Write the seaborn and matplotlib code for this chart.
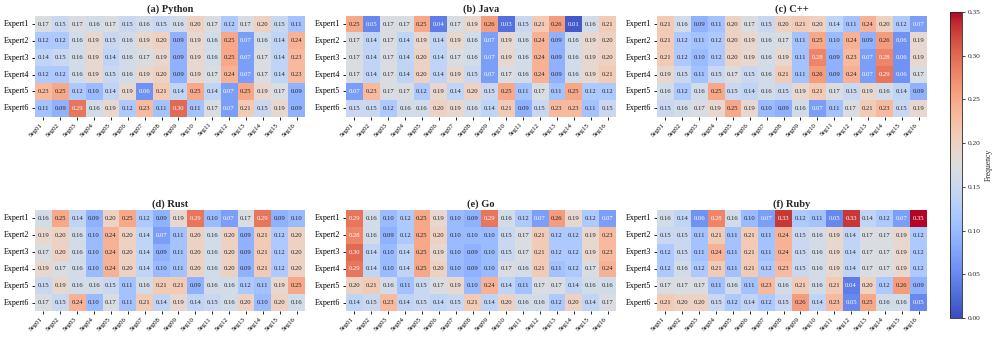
import numpy as np
import pandas as pd
import matplotlib
matplotlib.use("Agg")
import matplotlib.pyplot as plt
import seaborn as sns

experts = ["Expert1", "Expert2", "Expert3", "Expert4", "Expert5", "Expert6"]
segments = [f"Seg{i:02d}" for i in range(1, 17)]
titles = ["(a) Python", "(b) Java", "(c) C++", "(d) Rust", "(e) Go", "(f) Ruby"]

python_vals = [
    [0.17, 0.15, 0.17, 0.16, 0.17, 0.15, 0.16, 0.15, 0.16, 0.20, 0.17, 0.12, 0.17, 0.20, 0.15, 0.11],
    [0.12, 0.12, 0.16, 0.19, 0.15, 0.16, 0.19, 0.20, 0.09, 0.19, 0.16, 0.25, 0.07, 0.16, 0.14, 0.24],
    [0.14, 0.15, 0.16, 0.19, 0.14, 0.16, 0.17, 0.19, 0.09, 0.19, 0.16, 0.25, 0.07, 0.17, 0.14, 0.23],
    [0.12, 0.12, 0.16, 0.19, 0.15, 0.16, 0.19, 0.20, 0.09, 0.19, 0.17, 0.24, 0.07, 0.17, 0.14, 0.23],
    [0.23, 0.25, 0.12, 0.10, 0.14, 0.19, 0.06, 0.21, 0.14, 0.25, 0.14, 0.07, 0.25, 0.19, 0.17, 0.09],
    [0.11, 0.09, 0.29, 0.16, 0.19, 0.12, 0.23, 0.11, 0.30, 0.11, 0.17, 0.07, 0.21, 0.15, 0.19, 0.09],
]
java_vals = [
    [0.25, 0.05, 0.17, 0.17, 0.25, 0.04, 0.17, 0.19, 0.26, 0.03, 0.15, 0.21, 0.26, 0.01, 0.16, 0.21],
    [0.17, 0.14, 0.17, 0.14, 0.19, 0.14, 0.19, 0.16, 0.07, 0.19, 0.16, 0.24, 0.09, 0.16, 0.19, 0.20],
    [0.17, 0.14, 0.17, 0.14, 0.20, 0.14, 0.17, 0.16, 0.07, 0.19, 0.16, 0.24, 0.09, 0.16, 0.19, 0.20],
    [0.17, 0.14, 0.17, 0.14, 0.20, 0.14, 0.19, 0.15, 0.07, 0.17, 0.16, 0.24, 0.09, 0.16, 0.19, 0.21],
    [0.07, 0.23, 0.17, 0.17, 0.12, 0.19, 0.14, 0.20, 0.15, 0.25, 0.11, 0.17, 0.11, 0.25, 0.12, 0.12],
    [0.15, 0.15, 0.12, 0.16, 0.16, 0.20, 0.19, 0.16, 0.14, 0.21, 0.09, 0.15, 0.23, 0.23, 0.11, 0.15],
]
cpp_vals = [
    [0.21, 0.16, 0.09, 0.11, 0.20, 0.17, 0.15, 0.20, 0.21, 0.20, 0.14, 0.11, 0.24, 0.20, 0.12, 0.07],
    [0.21, 0.12, 0.11, 0.12, 0.20, 0.19, 0.16, 0.17, 0.11, 0.25, 0.10, 0.24, 0.09, 0.26, 0.06, 0.19],
    [0.21, 0.12, 0.10, 0.12, 0.20, 0.19, 0.16, 0.19, 0.11, 0.28, 0.09, 0.23, 0.07, 0.28, 0.06, 0.19],
    [0.19, 0.15, 0.11, 0.15, 0.17, 0.15, 0.16, 0.21, 0.11, 0.26, 0.09, 0.24, 0.07, 0.29, 0.06, 0.17],
    [0.16, 0.12, 0.16, 0.25, 0.15, 0.14, 0.16, 0.15, 0.19, 0.21, 0.17, 0.15, 0.19, 0.16, 0.14, 0.09],
    [0.15, 0.16, 0.17, 0.19, 0.25, 0.19, 0.10, 0.09, 0.16, 0.07, 0.11, 0.17, 0.21, 0.23, 0.15, 0.19],
]
rust_vals = [
    [0.16, 0.25, 0.14, 0.09, 0.20, 0.25, 0.12, 0.09, 0.19, 0.29, 0.10, 0.07, 0.17, 0.29, 0.09, 0.10],
    [0.19, 0.20, 0.16, 0.10, 0.24, 0.20, 0.14, 0.07, 0.11, 0.20, 0.16, 0.20, 0.09, 0.21, 0.12, 0.20],
    [0.17, 0.20, 0.16, 0.10, 0.24, 0.20, 0.14, 0.09, 0.11, 0.20, 0.16, 0.20, 0.09, 0.21, 0.12, 0.20],
    [0.19, 0.17, 0.16, 0.10, 0.24, 0.20, 0.14, 0.10, 0.11, 0.20, 0.16, 0.20, 0.09, 0.21, 0.12, 0.20],
    [0.15, 0.19, 0.16, 0.16, 0.15, 0.11, 0.16, 0.21, 0.21, 0.09, 0.16, 0.16, 0.12, 0.11, 0.19, 0.25],
    [0.17, 0.15, 0.24, 0.10, 0.17, 0.11, 0.21, 0.14, 0.19, 0.14, 0.15, 0.16, 0.20, 0.10, 0.20, 0.16],
]
go_vals = [
    [0.29, 0.16, 0.10, 0.12, 0.25, 0.19, 0.10, 0.09, 0.29, 0.16, 0.12, 0.07, 0.26, 0.19, 0.12, 0.07],
    [0.28, 0.16, 0.09, 0.12, 0.25, 0.20, 0.10, 0.10, 0.10, 0.15, 0.17, 0.21, 0.12, 0.12, 0.19, 0.23],
    [0.30, 0.14, 0.10, 0.14, 0.25, 0.19, 0.10, 0.09, 0.10, 0.15, 0.17, 0.21, 0.12, 0.12, 0.19, 0.23],
    [0.29, 0.14, 0.10, 0.14, 0.25, 0.20, 0.10, 0.09, 0.10, 0.17, 0.16, 0.21, 0.11, 0.12, 0.17, 0.24],
    [0.20, 0.21, 0.16, 0.11, 0.15, 0.17, 0.19, 0.10, 0.24, 0.14, 0.11, 0.17, 0.17, 0.14, 0.16, 0.16],
    [0.14, 0.15, 0.23, 0.14, 0.15, 0.14, 0.15, 0.21, 0.14, 0.20, 0.16, 0.16, 0.12, 0.20, 0.14, 0.17],
]
ruby_vals = [
    [0.16, 0.14, 0.06, 0.28, 0.16, 0.10, 0.07, 0.33, 0.12, 0.11, 0.05, 0.33, 0.14, 0.12, 0.07, 0.35],
    [0.15, 0.15, 0.11, 0.21, 0.11, 0.21, 0.11, 0.24, 0.15, 0.16, 0.19, 0.14, 0.17, 0.17, 0.19, 0.12],
    [0.12, 0.15, 0.11, 0.24, 0.11, 0.21, 0.11, 0.24, 0.15, 0.16, 0.19, 0.14, 0.17, 0.17, 0.19, 0.12],
    [0.12, 0.16, 0.12, 0.21, 0.11, 0.21, 0.12, 0.23, 0.15, 0.16, 0.19, 0.14, 0.17, 0.17, 0.19, 0.12],
    [0.17, 0.17, 0.17, 0.11, 0.16, 0.11, 0.23, 0.16, 0.21, 0.16, 0.21, 0.04, 0.20, 0.12, 0.26, 0.09],
    [0.21, 0.20, 0.20, 0.15, 0.12, 0.14, 0.12, 0.15, 0.26, 0.14, 0.23, 0.05, 0.25, 0.16, 0.16, 0.05],
]
all_vals = [python_vals, java_vals, cpp_vals, rust_vals, go_vals, ruby_vals]
cbar_ticks = [0.0, 0.05, 0.10, 0.15, 0.20, 0.25, 0.30, 0.35]

sns.set_style("white")
plt.rcParams["font.family"] = ["Liberation Serif", "DejaVu Serif"]

fig = plt.figure(figsize=(9.97, 3.41), dpi=100)
W, H = 997.0, 341.0
lefts = [35, 346, 657]
tops = [15.6, 210]
aw, ah = 270, 101

for i, (vals, title) in enumerate(zip(all_vals, titles)):
    r, c = divmod(i, 3)
    ax = fig.add_axes([lefts[c] / W, 1 - (tops[r] + ah) / H, aw / W, ah / H])
    df = pd.DataFrame(vals, index=experts, columns=segments)
    sns.heatmap(df, ax=ax, cmap="coolwarm", vmin=0, vmax=0.35, annot=True, fmt=".2f",
                annot_kws={"fontsize": 4.8}, cbar=False)
    ax.set_title(title, fontsize=7.5, fontweight="bold", pad=2.5)
    ax.tick_params(axis="both", which="both", length=2.5, width=0.6, pad=1.5,
                   bottom=True, left=True, colors="black")
    ax.set_xticklabels(segments, rotation=45, ha="right", fontsize=4.9)
    ax.set_yticklabels(experts, rotation=0, fontsize=5.8)
    ax.set_xlabel("")
    ax.set_ylabel("")

cax = fig.add_axes([950 / W, 1 - 318 / H, 12 / W, 306 / H])
sm = plt.cm.ScalarMappable(cmap="coolwarm", norm=plt.Normalize(0, 0.35))
cb = fig.colorbar(sm, cax=cax)
cb.set_ticks(cbar_ticks)
cb.ax.set_yticklabels([f"{t:.2f}" for t in cbar_ticks])
cb.ax.tick_params(labelsize=5.3, length=2.5, width=0.6, pad=1.5)
cb.set_label("Frequency", fontsize=5.5, labelpad=3)
cb.outline.set_linewidth(0.6)

fig.savefig("out.png", dpi=100)
